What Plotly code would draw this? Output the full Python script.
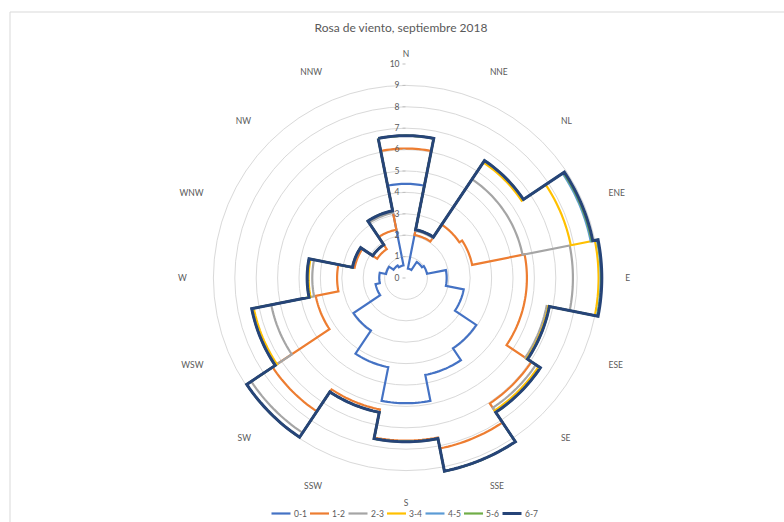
import plotly.graph_objects as go

# Wind directions (16 sectors, clockwise from north)
directions = ["N", "NNE", "NL", "ENE", "E", "ESE", "SE", "SSE",
              "S", "SSW", "SW", "WSW", "W", "WNW", "NW", "NNW"]

# Cumulative frequency per speed class (m/s)
speed_0_1 = [4.4, 0.45, 0.9, 1.0, 1.9, 2.75, 3.95, 4.62, 5.85, 4.25, 2.95, 1.45, 1.25, 0.95, 0.7, 0.6]
speed_1_2 = [6.05, 2.05, 3.0, 3.15, 5.65, 5.65, 7.05, 8.12, 7.6, 6.26, 7.5, 4.3, 3.22, 2.45, 1.62, 2.3]
speed_2_3 = [6.65, 2.25, 5.55, 5.55, 7.8, 6.7, 7.3, 9.2, 7.65, 6.4, 8.7, 6.42, 4.38, 2.55, 1.87, 3.1]
speed_3_4 = [6.65, 2.3, 6.5, 7.85, 9.0, 6.78, 7.45, 9.2, 7.65, 6.4, 8.95, 7.25, 4.55, 2.55, 1.87, 3.2]
speed_4_5 = [6.65, 2.3, 6.6, 8.8, 9.1, 6.83, 7.55, 9.2, 7.65, 6.4, 8.95, 7.35, 4.62, 2.55, 1.87, 3.2]
speed_5_6 = [6.65, 2.3, 6.6, 8.85, 9.12, 6.83, 7.55, 9.2, 7.65, 6.4, 8.95, 7.35, 4.62, 2.55, 1.87, 3.2]
speed_6_7 = [6.65, 2.3, 6.6, 8.9, 9.15, 6.83, 7.55, 9.2, 7.65, 6.4, 8.95, 7.35, 4.62, 2.55, 1.87, 3.2]

series_names = ["0-1", "1-2", "2-3", "3-4", "4-5", "5-6", "6-7"]
series_values = [speed_0_1, speed_1_2, speed_2_3, speed_3_4, speed_4_5, speed_5_6, speed_6_7]
series_colors = ["#4472C4", "#ED7D31", "#A5A5A5", "#FFC000", "#5B9BD5", "#70AD47", "#264478"]
series_widths = [2.2, 2.2, 2.2, 2.2, 2.2, 2.2, 3.0]

SECTOR = 360 / len(directions)


def sector_outline(values, steps=16):
    """Each sector is an arc at constant radius; neighbours join radially."""
    theta, r = [], []
    for i, v in enumerate(values):
        start = i * SECTOR - SECTOR / 2
        for k in range(steps + 1):
            theta.append(start + SECTOR * k / steps)
            r.append(v)
    theta.append(theta[0])
    r.append(r[0])
    return theta, r


fig = go.Figure()
for name, vals, color, width in zip(series_names, series_values, series_colors, series_widths):
    th, rr = sector_outline(vals)
    fig.add_trace(go.Scatterpolar(
        theta=th, r=rr, mode="lines", name=name,
        line=dict(color=color, width=width),
        hoverinfo="skip", showlegend=False,
    ))

W, H = 784, 522
cx, cy, R = 406, 278, 214

# Compact legend row under the rose: short line sample followed by its label
legend_y = 1 - 513.5 / H
legend_x0, legend_pitch, sample_len = 271.5, 38.5, 19
shapes = [dict(type="rect", xref="paper", yref="paper",
               x0=10 / W, x1=1.02, y0=-0.05, y1=1 - 12 / H,
               line=dict(color="#D9D9D9", width=1), fillcolor="rgba(0,0,0,0)", layer="below")]
annotations = []
for i, (name, color, width) in enumerate(zip(series_names, series_colors, series_widths)):
    x0 = legend_x0 + i * legend_pitch
    shapes.append(dict(type="line", xref="paper", yref="paper",
                       x0=x0 / W, x1=(x0 + sample_len) / W, y0=legend_y, y1=legend_y,
                       line=dict(color=color, width=width)))
    annotations.append(dict(text=name, xref="paper", yref="paper",
                            x=(x0 + sample_len + 1) / W, y=legend_y,
                            xanchor="left", yanchor="middle", showarrow=False,
                            font=dict(size=8.5, color="#595959")))

fig.update_layout(
    width=W, height=H,
    margin=dict(l=0, r=0, t=0, b=0),
    paper_bgcolor="white",
    font=dict(family="Lato, Open Sans, sans-serif", color="#595959", size=10),
    title=dict(text="Rosa de viento, septiembre 2018", x=401 / W, xanchor="center",
               y=1 - 27.5 / H, yanchor="middle",
               font=dict(size=12, color="#595959")),
    polar=dict(
        domain=dict(x=[(cx - R) / W, (cx + R) / W], y=[(H - cy - R) / H, (H - cy + R) / H]),
        bgcolor="white",
        angularaxis=dict(
            direction="clockwise", rotation=90,
            tickmode="array",
            tickvals=[i * SECTOR for i in range(len(directions))],
            ticktext=directions,
            showgrid=False, showline=False,
            ticks="outside", ticklen=3, tickcolor="rgba(0,0,0,0)",
            tickfont=dict(size=8.5, color="#595959"),
        ),
        radialaxis=dict(
            range=[0, 10], dtick=1, angle=90, tickangle=90,
            showline=False, gridcolor="#D9D9D9", gridwidth=1,
            ticks="outside", ticklen=3, tickcolor="#BFBFBF",
            tickfont=dict(size=8.5, color="#595959"),
            side="counterclockwise",
        ),
    ),
    showlegend=False,
    shapes=shapes,
    annotations=annotations,
)

fig.write_html("out.html")
